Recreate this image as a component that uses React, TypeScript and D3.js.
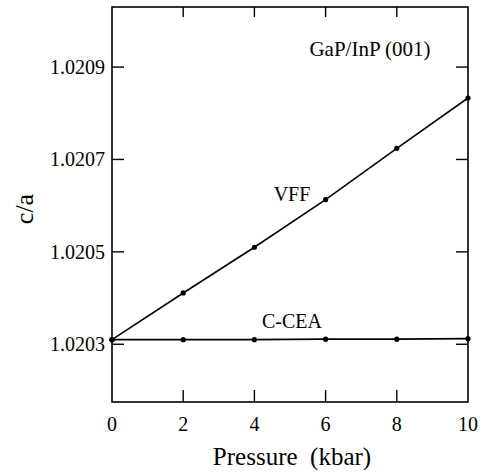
import React from "react";
import * as d3 from "d3";

const pressure = [0, 2, 4, 6, 8, 10];
const vff = [1.02031, 1.020411, 1.02051, 1.020613, 1.020724, 1.020833];
const ccea = [1.02031, 1.02031, 1.02031, 1.020311, 1.020311, 1.020312];
const xTicks = [0, 2, 4, 6, 8, 10];
const yTicks = [1.0203, 1.0205, 1.0207, 1.0209];
const xDomain = [0, 10];
const yDomain = [1.020175, 1.02103];

const W = 484;
const H = 472;
const L = 112, R = 468, T = 7, B = 402;
const FONT = "'Liberation Serif', 'Times New Roman', serif";

export default function App() {
  const x = d3.scaleLinear().domain(xDomain).range([L, R]);
  const y = d3.scaleLinear().domain(yDomain).range([B, T]);
  const line = d3
    .line<number>()
    .x((_, i) => x(pressure[i]))
    .y((d) => y(d));
  const tl = 12;
  return (
    <svg
      width={W}
      height={H}
      style={{ position: "absolute", left: 0, top: 0, background: "#fff" }}
    >
      <rect x={L} y={T} width={R - L} height={B - T} fill="none" stroke="#000" strokeWidth={1.6} />
      {xTicks.slice(1, -1).map((t) => (
        <g key={"xt" + t}>
          <line x1={x(t)} x2={x(t)} y1={B} y2={B - tl} stroke="#000" strokeWidth={1.4} />
          <line x1={x(t)} x2={x(t)} y1={T} y2={T + 10} stroke="#000" strokeWidth={1.4} />
        </g>
      ))}
      {xTicks.map((t) => (
        <text
          key={"xl" + t}
          x={x(t)}
          y={431}
          textAnchor="middle"
          fontFamily={FONT}
          fontSize={20}
        >
          {t}
        </text>
      ))}
      {yTicks.map((t) => (
        <g key={"yt" + t}>
          <line x1={L} x2={L + tl} y1={y(t)} y2={y(t)} stroke="#000" strokeWidth={1.4} />
          <line x1={R} x2={R - tl} y1={y(t)} y2={y(t)} stroke="#000" strokeWidth={1.4} />
          <text
            x={105}
            y={y(t) + 7}
            textAnchor="end"
            fontFamily={FONT}
            fontSize={20}
          >
            {d3.format(".4f")(t)}
          </text>
        </g>
      ))}
      <path d={line(vff) || ""} fill="none" stroke="#000" strokeWidth={1.6} />
      <path d={line(ccea) || ""} fill="none" stroke="#000" strokeWidth={1.8} />
      {vff.map((v, i) => (
        <circle key={"v" + i} cx={x(pressure[i])} cy={y(v)} r={2.6} fill="#000" />
      ))}
      {ccea.map((v, i) => (
        <circle key={"c" + i} cx={x(pressure[i])} cy={y(v)} r={2.6} fill="#000" />
      ))}
      <text x={292} y={201} textAnchor="middle" fontFamily={FONT} fontSize={20}>
        VFF
      </text>
      <text x={292} y={328} textAnchor="middle" fontFamily={FONT} fontSize={20}>
        C-CEA
      </text>
      <text x={370} y={56} textAnchor="middle" fontFamily={FONT} fontSize={21}>
        GaP/InP (001)
      </text>
      <text
        x={292}
        y={465}
        textAnchor="middle"
        fontFamily={FONT}
        fontSize={25}
        style={{ whiteSpace: "pre" }}
      >
        {"Pressure  (kbar)"}
      </text>
      <text
        transform={`translate(33,209) rotate(-90)`}
        textAnchor="middle"
        fontFamily={FONT}
        fontSize={26}
      >
        c/a
      </text>
    </svg>
  );
}
